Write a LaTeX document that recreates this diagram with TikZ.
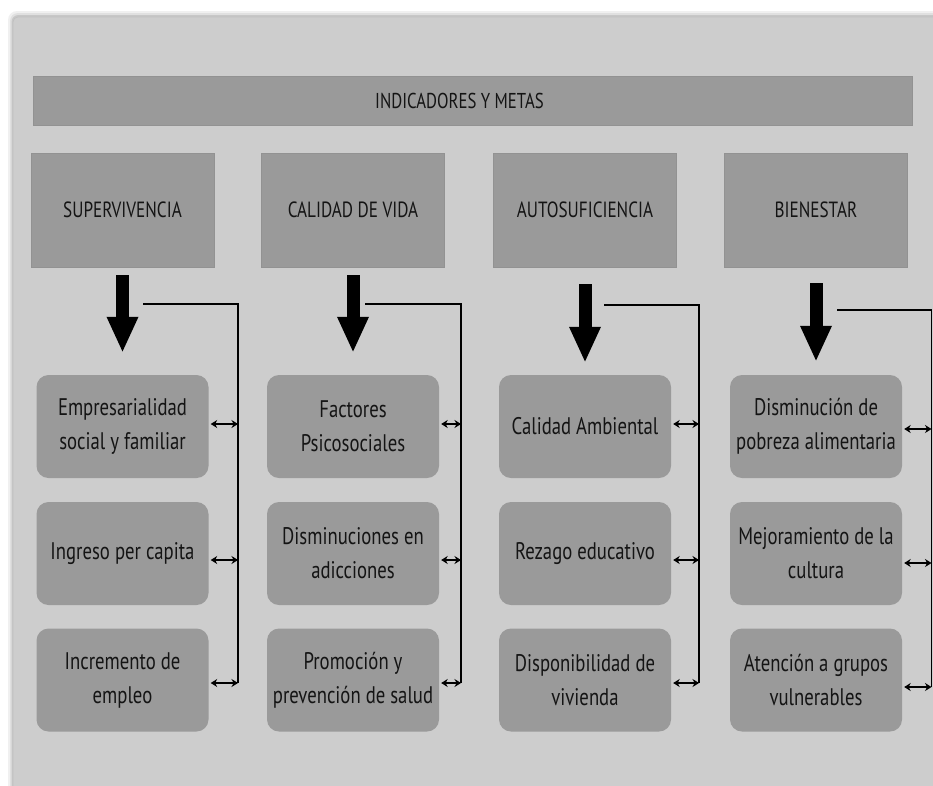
\documentclass[tikz,border=0pt]{standalone}
\usepackage{fontspec}
\setmainfont[FakeStretch=0.78]{PT Sans}
\usetikzlibrary{arrows.meta,calc}
\definecolor{panelc}{HTML}{CDCDCD}
\definecolor{boxc}{HTML}{9A9A9A}
\definecolor{txtc}{HTML}{141414}
\tikzset{
  hdrbox/.style={fill=boxc, draw=boxc!95!black, line width=0.6pt, minimum width=183pt, minimum height=114pt, inner sep=0pt,
    text=txtc, font=\fontsize{22}{26}\selectfont},
  titlebox/.style={fill=boxc, draw=boxc!95!black, line width=0.6pt, minimum width=879pt, minimum height=49pt, inner sep=0pt,
    text=txtc, font=\fontsize{21.5}{26}\selectfont},
  itembox/.style={fill=boxc, rounded corners=12pt, minimum width=172pt, minimum height=103pt, inner sep=0pt,
    text=txtc, align=center, font=\fontsize{24}{34}\selectfont},
  bigarrow/.style={line width=13pt, -{Triangle[length=36pt,width=29pt]}},
  linkline/.style={line width=1.4pt, black},
  dblarrow/.style={line width=1.6pt, {Stealth[length=6.5pt,width=8pt]}-{Stealth[length=6.5pt,width=8pt]}},
}
\begin{document}
\begin{tikzpicture}[x=1pt,y=-1pt]
\useasboundingbox (0,0) rectangle (933,785);
\fill[white] (0,0) rectangle (933,785);
% panel with soft shadow
\fill[black!6, rounded corners=9pt] (8,11) rectangle (960,800);
\fill[black!12, rounded corners=8pt] (10,13) rectangle (960,800);
\fill[black!22, rounded corners=7pt] (11.5,15) rectangle (960,800);
\fill[panelc, draw=black!25, line width=0.6pt, rounded corners=5pt] (13,17) rectangle (960,800);

% title
\node[titlebox] (title) at (472.5,101) {INDICADORES Y METAS\hspace*{26pt}};

% headers
\node[hdrbox] (h1) at (122.5,210) {SUPERVIVENCIA};
\node[hdrbox] (h2) at (353,210) {CALIDAD DE VIDA};
\node[hdrbox] (h3) at (585,210) {AUTOSUFICIENCIA};
\node[hdrbox] (h4) at (816,210) {BIENESTAR};

% item boxes
\node[itembox] (b11) at (122.5,426.5) {Empresarialidad\\social y familiar};
\node[itembox] (b12) at (122.5,553.5) {Ingreso per capita};
\node[itembox] (b13) at (122.5,680) {Incremento de\\empleo};

\node[itembox] (b21) at (353,426.5) {Factores\\Psicosociales};
\node[itembox] (b22) at (353,553.5) {Disminuciones en\\adicciones};
\node[itembox] (b23) at (353,680) {Promoción y\\prevención de salud};

\node[itembox] (b31) at (585,426.5) {Calidad Ambiental};
\node[itembox] (b32) at (585,553.5) {Rezago educativo};
\node[itembox] (b33) at (585,680) {Disponibilidad de\\vivienda};

\node[itembox] (b41) at (816,426.5) {Disminución de\\pobreza alimentaria};
\node[itembox] (b42) at (816,553.5) {Mejoramiento de la\\cultura};
\node[itembox] (b43) at (816,680) {Atención a grupos\\vulnerables};

% big arrows
\draw[bigarrow] ($(h1.south)+(0,8)$) -- ($(b11.north)+(0,-22)$);
\draw[bigarrow] ($(h2.south)+(0,8)$) -- ($(b21.north)+(0,-22)$);
\draw[bigarrow] ($(h3.south)+(0,17)$) -- ($(b31.north)+(0,-12)$);
\draw[bigarrow] ($(h4.south)+(0,16)$) -- ($(b41.north)+(0,-13)$);

% link lines
\coordinate (s1) at (143,304);  \coordinate (c1) at (238,304);  \coordinate (e1) at (238,683);
\coordinate (s2) at (365,304);  \coordinate (c2) at (461,304);  \coordinate (e2) at (461,683);
\coordinate (s3) at (604,305);  \coordinate (c3) at (699,305);  \coordinate (e3) at (699,683);
\coordinate (s4) at (837,310);  \coordinate (c4) at (931.5,310);  \coordinate (e4) at (931.5,687);
\draw[linkline] (s1) -- (c1) -- (e1);
\draw[linkline] (s2) -- (c2) -- (e2);
\draw[linkline] (s3) -- (c3) -- (e3);
\draw[linkline] (s4) -- (c4) -- (e4);

% double arrows
\foreach \c/\ya/\yb/\yc in {1/424/560/683, 2/424/560/683, 3/424/560/683, 4/429/563/687}{
  \draw[dblarrow] ($(b\c1.east |- 0,\ya)+(2,0)$) -- (c\c |- 0,\ya);
  \draw[dblarrow] ($(b\c2.east |- 0,\yb)+(2,0)$) -- (c\c |- 0,\yb);
  \draw[dblarrow] ($(b\c3.east |- 0,\yc)+(2,0)$) -- (c\c |- 0,\yc);
}
\end{tikzpicture}
\end{document}
